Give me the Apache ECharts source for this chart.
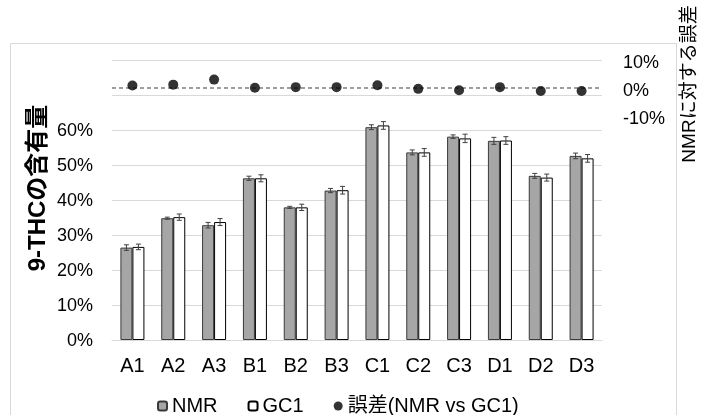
<!DOCTYPE html>
<html>
<head>
<meta charset="utf-8">
<script src="https://cdn.jsdelivr.net/npm/echarts@6/dist/echarts.min.js"></script>
<style>
html,body{margin:0;padding:0;background:#fff;}
#chart{width:706px;height:415px;}
</style>
</head>
<body>
<div id="chart"></div>
<script>
// ---- data ----
const categories = ['A1','A2','A3','B1','B2','B3','C1','C2','C3','D1','D2','D3'];
const nmr    = [0.264, 0.348, 0.328, 0.462, 0.379, 0.427, 0.608, 0.536, 0.581, 0.569, 0.469, 0.526];
const gc1    = [0.266, 0.351, 0.337, 0.462, 0.379, 0.428, 0.613, 0.536, 0.576, 0.570, 0.464, 0.519];
const nmrErr = [0.008, 0.003, 0.008, 0.006, 0.003, 0.006, 0.007, 0.007, 0.005, 0.010, 0.007, 0.008];
const gc1Err = [0.008, 0.009, 0.010, 0.010, 0.009, 0.011, 0.011, 0.011, 0.012, 0.011, 0.010, 0.011];
const diff   = [0.009, 0.012, 0.030, 0.001, 0.003, 0.003, 0.010, -0.003, -0.008, 0.003, -0.011, -0.011];
const seriesNames = ['NMR', 'GC1', '誤差(NMR vs GC1)'];
const leftTitle = '9-THCの含有量';
const rightTitle = 'NMRに対する誤差';

const FONT = '"Liberation Sans", Arial, "Noto Sans CJK JP", sans-serif';
const BAR_W = 12;

const chart = echarts.init(document.getElementById('chart'), null, {renderer: 'canvas'});

function errSeries(vals, errs, offset) {
  return {
    type: 'custom',
    xAxisIndex: 0, yAxisIndex: 0,
    z: 5,
    silent: true,
    data: categories.map((c, i) => [i, vals[i], errs[i]]),
    renderItem: function (params, api) {
      const i = api.value(0), v = api.value(1), e = api.value(2);
      const hi = api.coord([i, v + e]);
      const lo = api.coord([i, v - e]);
      const x = hi[0] + offset;
      const cap = 2.5;
      const style = {stroke: '#404040', lineWidth: 1};
      return {
        type: 'group',
        children: [
          {type: 'line', shape: {x1: x, y1: hi[1], x2: x, y2: lo[1]}, style: style},
          {type: 'line', shape: {x1: x - cap, y1: hi[1], x2: x + cap, y2: hi[1]}, style: style},
          {type: 'line', shape: {x1: x - cap, y1: lo[1], x2: x + cap, y2: lo[1]}, style: style}
        ]
      };
    }
  };
}

const pct = v => Math.round(v * 100);

const option = {
  animation: false,
  backgroundColor: '#fff',
  textStyle: {fontFamily: FONT},
  grid: {left: 112, right: 104, top: 60, bottom: 75, containLabel: false},
  legend: {
    data: seriesNames,
    left: 152,
    top: 391,
    itemWidth: 9,
    itemHeight: 9,
    itemGap: 30,
    textStyle: {fontSize: 20, color: '#000', fontFamily: FONT},
    selectedMode: false
  },
  xAxis: {
    type: 'category',
    data: categories,
    axisLine: {show: true, lineStyle: {color: '#d9d9d9', width: 1}},
    axisTick: {show: false},
    axisLabel: {fontSize: 20, color: '#000', margin: 16, fontFamily: FONT}
  },
  yAxis: [
    {
      type: 'value',
      min: 0, max: 0.8, interval: 0.1,
      position: 'left',
      axisLine: {show: false},
      axisTick: {show: false},
      splitLine: {show: true, lineStyle: {color: '#d9d9d9', width: 1}},
      axisLabel: {
        fontSize: 18, color: '#000', margin: 19, fontFamily: FONT,
        verticalAlign: 'top', lineHeight: 3,
        formatter: v => (pct(v) <= 60 ? pct(v) + '%' : '')
      }
    },
    {
      type: 'value',
      min: -0.9, max: 0.1, interval: 0.1,
      position: 'right',
      axisLine: {show: false},
      axisTick: {show: false},
      splitLine: {show: false},
      axisLabel: {
        fontSize: 18, color: '#000', margin: 21, fontFamily: FONT,
        verticalAlign: 'top', lineHeight: 6,
        formatter: v => (Math.abs(pct(v)) <= 10 ? pct(v) + '%' : '')
      }
    }
  ],
  series: [
    {
      name: seriesNames[0],
      type: 'bar',
      data: nmr,
      barWidth: BAR_W,
      barGap: '0%',
      itemStyle: {color: '#a6a6a6', borderColor: '#3a3a3a', borderWidth: 1},
      z: 2
    },
    {
      name: seriesNames[1],
      type: 'bar',
      data: gc1,
      barWidth: BAR_W,
      barGap: '0%',
      itemStyle: {color: '#ffffff', borderColor: '#000000', borderWidth: 1},
      z: 2
    },
    errSeries(nmr, nmrErr, -BAR_W / 2),
    errSeries(gc1, gc1Err, BAR_W / 2),
    {
      name: seriesNames[2],
      type: 'scatter',
      yAxisIndex: 1,
      data: diff,
      symbol: 'circle',
      symbolSize: 10,
      itemStyle: {color: '#000'},
      z: 6,
      markLine: {
        silent: true,
        symbol: ['none', 'none'],
        label: {show: false},
        lineStyle: {color: '#7f7f7f', type: [4, 3], width: 1.5},
        data: [{yAxis: 0}]
      }
    }
  ],
  graphic: [
    {
      type: 'rect',
      silent: true,
      z: -10,
      shape: {x: 10.5, y: 43.5, width: 666, height: 400},
      style: {fill: 'none', stroke: '#d9d9d9', lineWidth: 1}
    },
    {
      type: 'text',
      x: 38, y: 188,
      rotation: Math.PI / 2,
      style: {
        text: leftTitle,
        fontSize: 24, fontWeight: 'bold', fill: '#000', fontFamily: FONT,
        align: 'center', verticalAlign: 'middle'
      }
    },
    {
      type: 'text',
      x: 690, y: 84,
      rotation: Math.PI / 2,
      style: {
        text: rightTitle,
        fontSize: 19, fill: '#000', fontFamily: FONT,
        align: 'center', verticalAlign: 'middle'
      }
    }
  ]
};

chart.setOption(option);
</script>
</body>
</html>
